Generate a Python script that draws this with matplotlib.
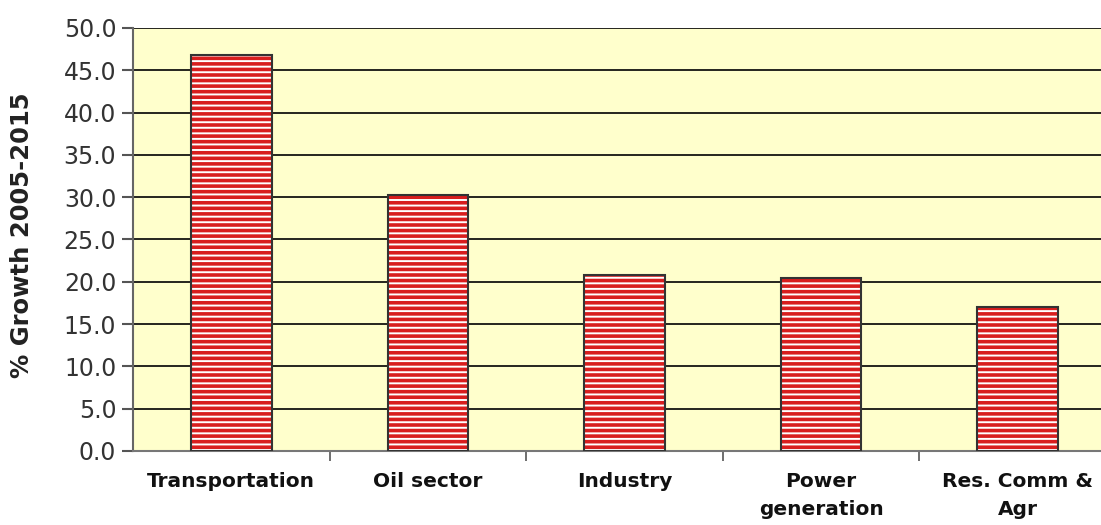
import numpy as np
import matplotlib.pyplot as plt

# data
categories = ["Transportation", "Oil sector", "Industry", "Power\ngeneration", "Res. Comm &\nAgr"]
growth = [46.8, 30.3, 20.8, 20.5, 17.0]
yticks = [0, 5, 10, 15, 20, 25, 30, 35, 40, 45, 50]

plt.rcParams['font.family'] = ['DejaVu Sans']
plt.rcParams['hatch.linewidth'] = 2.6

fig = plt.figure(figsize=(11.01, 5.25), dpi=100)
ax = fig.add_axes([133/1101, 1 - 451/525, 983/1101, 423/525])
ax.set_facecolor('#ffffcc')

x = np.arange(len(categories))
# striped fill (hatch colour follows edgecolor), then a dark outline on top
ax.bar(x, growth, width=0.41, color='white', edgecolor='#d81e1e', linewidth=0,
       hatch='---', zorder=3)
ax.bar(x, growth, width=0.41, fill=False, edgecolor='#333333', linewidth=1.5, zorder=4)

ax.set_xlim(-0.5, len(categories) - 0.5)
ax.set_ylim(0, 50)
ax.set_yticks(yticks)
ax.set_yticklabels([f"{v:.1f}" for v in yticks], fontsize=17, color='#333333')
ax.yaxis.grid(True, color='black', linewidth=1.2, zorder=1)
ax.set_axisbelow(True)

ax.set_xticks(x)
ax.set_xticklabels(categories, fontsize=14.5, fontweight='bold', color='#111111',
                   linespacing=1.6)
ax.tick_params(axis='x', length=0, pad=15)
ax.set_xticks(np.arange(len(categories) - 1) + 0.5, minor=True)
ax.tick_params(axis='x', which='minor', length=7, width=1.2, color='#555555')
ax.tick_params(axis='y', length=8, width=1.5, color='#555555', pad=4)

ax.set_ylabel("% Growth 2005-2015", fontsize=17.5, fontweight='bold', color='#222222')
ax.yaxis.set_label_coords(-0.101, 0.51)

for side in ['top', 'right']:
    ax.spines[side].set_visible(False)
ax.spines['left'].set_color('#666666')
ax.spines['left'].set_linewidth(1.5)
ax.spines['bottom'].set_color('#777777')
ax.spines['bottom'].set_linewidth(1.5)

plt.savefig("out.png", dpi=100)
